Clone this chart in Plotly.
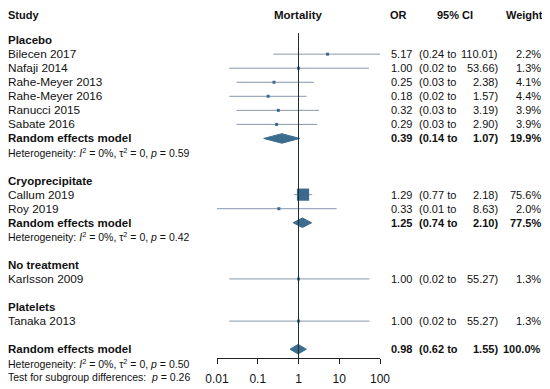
import plotly.graph_objects as go
import math

# ---------------- data ----------------
study_names = ["Bilecen 2017", "Nafaji 2014", "Rahe-Meyer 2013", "Rahe-Meyer 2016",
               "Ranucci 2015", "Sabate 2016", "Callum 2019", "Roy 2019",
               "Karlsson 2009", "Tanaka 2013"]
study_or = [5.17, 1.00, 0.25, 0.18, 0.32, 0.29, 1.29, 0.33, 1.00, 1.00]
study_lo = [0.24, 0.02, 0.03, 0.02, 0.03, 0.03, 0.77, 0.01, 0.02, 0.02]
study_hi = [110.01, 53.66, 2.38, 1.57, 3.19, 2.90, 2.18, 8.63, 55.27, 55.27]
study_w = [2.2, 1.3, 4.1, 4.4, 3.9, 3.9, 75.6, 2.0, 1.3, 1.3]
study_group = ["Placebo"] * 6 + ["Cryoprecipitate"] * 2 + ["No treatment", "Platelets"]

group_names = ["Placebo", "Cryoprecipitate", "No treatment", "Platelets"]
group_or = [0.39, 1.25, None, None]
group_lo = [0.14, 0.74, None, None]
group_hi = [1.07, 2.10, None, None]
group_w = [19.9, 77.5, None, None]
group_het_p = ["0.59", "0.42", None, None]

overall = {"or": 0.98, "lo": 0.62, "hi": 1.55, "w": 100.0, "het_p": "0.50"}
subgroup_test_p = "0.26"

tick_vals = [0.01, 0.1, 1, 10, 100]
tick_text = ["0.01", "0.1", "1", "10", "100"]

# ---------------- styling ----------------
OFF = 8                      # page body margin offset
W, H = 550 - OFF, 389 - OFF
PLOT_BOTTOM = 358 - OFF      # figure pixel of the x-axis line
FONT = "Liberation Sans, Arial, Helvetica, sans-serif"
TXT = "#111111"
LINE_C = "#8797ae"
SQ_C = "#3d6a8c"
DIA_C = "#3b6d8e"
VLINE_C = "#1e2d30"

ROW_PX = 14.05
ROW0_PX = 12.0 - OFF


def row_px(r):
    return ROW0_PX + ROW_PX * r


def py(r):
    return (PLOT_BOTTOM - row_px(r)) / PLOT_BOTTOM


def px(x):
    return max(0, x - OFF) / W


fig = go.Figure()
ann = []


def text(x, row, s, anchor="left", bold=False, size=11.5):
    if bold:
        s = "<b>" + s + "</b>"
    ann.append(dict(x=px(x), y=py(row), xref="paper", yref="paper", text=s, showarrow=False,
                    xanchor=anchor, yanchor="middle", borderpad=0, borderwidth=0,
                    font=dict(family=FONT, size=size, color=TXT)))


def fmt_cols(row, orv, lo, hi, w, bold=False):
    text(412, row, f"{orv:.2f}", "right", bold, 11)
    text(419, row, f"({lo:.2f} to", "left", bold, 11)
    text(498, row, f"{hi:.2f})", "right", bold, 11)
    text(541, row, f"{w:.1f}%", "right", bold, 11)


def diamond(row, orv, lo, hi, h=0.34):
    fig.add_trace(go.Scatter(x=[lo, orv, hi, orv, lo], y=[row, row - h, row, row + h, row],
                             mode="lines", fill="toself", fillcolor=DIA_C,
                             line=dict(color=DIA_C, width=1), hoverinfo="skip",
                             showlegend=False))


def het(row, p):
    text(6, row, "Heterogeneity: <i>I</i><sup>2</sup> = 0%, τ<sup>2</sup> = 0, <i>p</i> = " + p,
         "left", False, 10.5)


# headers (nudged slightly down so they stay inside the page)
HDR = 0.2
text(6, HDR, "Study", "left", True, 11)
text(298, HDR, "Mortality", "center", True, 11.5)
text(398, HDR, "OR", "center", True, 11)
text(455, HDR, "95% CI", "center", True, 11)
text(543, HDR, "Weight", "right", True, 11)

row = 2
for gi, g in enumerate(group_names):
    text(6, row, g, "left", True)
    row += 1
    for i, name in enumerate(study_names):
        if study_group[i] != g:
            continue
        text(6, row, name, size=11.8)
        fig.add_trace(go.Scatter(x=[study_lo[i], study_hi[i]], y=[row, row], mode="lines",
                                 line=dict(color=LINE_C, width=1), hoverinfo="skip",
                                 showlegend=False))
        size = max(3.0, 1.4 * math.sqrt(study_w[i]))
        fig.add_trace(go.Scatter(x=[study_or[i]], y=[row], mode="markers",
                                 marker=dict(symbol="square", size=size, color=SQ_C,
                                             line=dict(width=0)),
                                 hoverinfo="skip", showlegend=False))
        fmt_cols(row, study_or[i], study_lo[i], study_hi[i], study_w[i])
        row += 1
    if group_or[gi] is not None:
        text(6, row, "Random effects model", "left", True)
        diamond(row, group_or[gi], group_lo[gi], group_hi[gi])
        fmt_cols(row, group_or[gi], group_lo[gi], group_hi[gi], group_w[gi], bold=True)
        row += 1
        het(row, group_het_p[gi])
        row += 1
    row += 1

# overall
text(6, row, "Random effects model", "left", True)
diamond(row, overall["or"], overall["lo"], overall["hi"])
fmt_cols(row, overall["or"], overall["lo"], overall["hi"], overall["w"], bold=True)
het(row + 1, overall["het_p"])
text(6, row + 2, "Test for subgroup differences:  <i>p</i> = " + subgroup_test_p, "left", False, 10.5)

top_row = -ROW0_PX / ROW_PX
bot_row = (PLOT_BOTTOM - ROW0_PX) / ROW_PX

# reference line at OR = 1
fig.add_trace(go.Scatter(x=[1, 1], y=[1.5, bot_row], mode="lines",
                         line=dict(color=VLINE_C, width=1), hoverinfo="skip", showlegend=False))

fig.update_layout(
    width=W, height=H, autosize=False,
    margin=dict(l=0, r=0, t=0, b=H - PLOT_BOTTOM, pad=0, autoexpand=False),
    plot_bgcolor="white", paper_bgcolor="white",
    annotations=ann,
    xaxis=dict(type="log", range=[-2, 2], domain=[(217 - OFF) / W, (380 - OFF) / W],
               tickvals=tick_vals, ticktext=tick_text, automargin=False,
               showline=True, linecolor="#222222", linewidth=1,
               ticks="outside", ticklen=5, tickcolor="#222222",
               tickfont=dict(family=FONT, size=12, color=TXT),
               showgrid=False, zeroline=False, ticklabelstandoff=5),
    yaxis=dict(range=[bot_row, top_row], visible=False, showgrid=False, zeroline=False,
               automargin=False),
)

fig.write_html("out.html")
